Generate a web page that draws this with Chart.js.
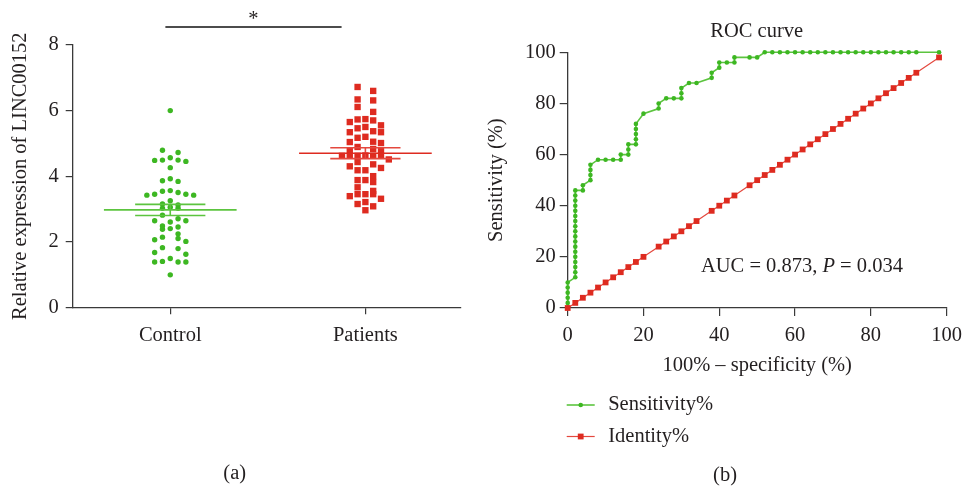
<!DOCTYPE html>
<html><head><meta charset="utf-8">
<script src="https://cdn.jsdelivr.net/npm/chart.js@4/dist/chart.umd.min.js"></script>
<style>
html,body{margin:0;padding:0;background:#fff;width:969px;height:487px;overflow:hidden}
#wa{position:absolute;left:0;top:0;width:480px;height:487px}
#wb{position:absolute;left:480px;top:0;width:489px;height:487px}
</style></head><body>
<div id="wa"><canvas id="ca" width="480" height="487" style="width:480px;height:487px"></canvas></div>
<div id="wb"><canvas id="cb" width="489" height="487" style="width:489px;height:487px"></canvas></div>
<script>
// ---------- data: panel (a) ----------
const groupLabels = ['Control', 'Patients'];
const controlValues = [6.0, 4.72, 4.79, 4.49, 4.48, 4.56, 4.45, 4.49, 4.26, 3.86, 3.84, 3.92,
  3.45, 3.56, 3.42, 3.50, 3.54, 3.42, 3.45, 3.25, 3.12, 3.15, 3.05, 3.02, 3.02, 2.81,
  2.60, 2.64, 2.64, 2.70, 2.45, 2.38, 2.40, 2.48, 2.14, 2.06, 2.01, 2.10, 2.24,
  1.82, 1.67, 1.79, 1.62, 1.40, 1.38, 1.38, 1.38, 1.49, 0.99];
const patientValues = [6.72, 6.60, 6.34, 6.31, 6.11, 5.96, 5.74, 5.70, 5.65, 5.73, 5.55, 5.50,
  5.46, 5.37, 5.34, 5.34, 5.17, 5.20, 5.05, 5.01, 5.04, 4.89, 4.83, 4.77, 4.79, 4.62, 4.62,
  4.63, 4.62, 4.62, 4.62, 4.51, 4.43, 4.36, 4.30, 4.25, 4.18, 4.18, 4.00, 3.88, 3.82, 3.88,
  3.66, 3.45, 3.45, 3.55, 3.39, 3.45, 3.31, 3.15, 3.21, 3.08, 2.96];
const groupMeans = [2.97, 4.70];
const groupSems = [0.17, 0.165];
const yTicksA = [0, 2, 4, 6, 8];
const sigBracketX = [0.975, 1.878];
const sigBracketY = 8.55;
const sigLabel = '*';

// ---------- data: panel (b) ----------
const rocFpr = [0,0,0,0,0,0,
  2,2,2,2,2,2,2,2,2,2,2,2,2,2,2,2,2,2,
  4,4, 6,6,6,6, 8,10,12, 14,14, 16,16,16, 18,18,18,18,18, 20, 24,24, 26,28, 30,30,30,
  32,34, 38,38, 40,40, 42, 44,44, 48,50,
  52,54,56,58,60,62,64,66,68,70,72,74,76,78,80,82,84,86,88,90,92, 98];
const rocSensitivity = [0,2,4,6,8,10,
  12,14,16,18,20,22,24,26,28,30,32,34,36,38,40,42,44,46,
  46,48, 50,52,54,56, 58,58,58, 58,60, 60,62,64, 64,66,68,70,72, 76, 78,80, 82,82, 82,84,86,
  88,88, 90,92, 94,96, 96, 96,98, 98,98,
  100,100,100,100,100,100,100,100,100,100,100,100,100,100,100,100,100,100,100,100,100, 100];
const identityX = [0,2,4,6,8,10,12,14,16,18,20,24,26,28,30,32,34,38,40,42,44,48,50,
  52,54,56,58,60,62,64,66,68,70,72,74,76,78,80,82,84,86,88,90,92,98];
const identityY = identityX.slice();
const xTicksB = [0, 20, 40, 60, 80, 100];
const yTicksB = [0, 20, 40, 60, 80, 100];
const rocTitle = 'ROC curve';
const seriesNames = ['Sensitivity%', 'Identity%'];
const aucText = ['AUC = 0.873, ', 'P', ' = 0.034'];
const panelLabels = ['(a)', '(b)'];

// ---------- styles ----------
const GREEN = '#3db722';
const GREEN_L = '#5cc43f';
const RED = '#de2b20';
const RED_L = '#e4483e';
const AXIS = '#3a3a3a';
const TEXT = '#231f20';
const FAM = "'Liberation Serif', 'Times New Roman', serif";
const FS = 20.5;

// row-binned scatter layout (Prism-like), computed from the values
function swarm(values, center, step, rowHeight) {
  const order = values.map((v, i) => i).sort((a, b) => values[b] - values[a]);
  const out = new Array(values.length);
  let k = 0;
  while (k < order.length) {
    const start = values[order[k]];
    const row = [];
    while (k < order.length && start - values[order[k]] < rowHeight) { row.push(order[k]); k++; }
    const n = row.length;
    const cols = [];
    if (n % 2) { cols.push(0); for (let j = 1; cols.length < n; j++) { cols.push(-j, j); } }
    else { for (let j = 1; cols.length < n; j++) { cols.push(-j, j); } }
    row.forEach((idx, j) => { out[idx] = {x: center + cols[j] * step, y: values[idx]}; });
  }
  return out;
}

function seg(x1, y1, x2, y2) { return [{x: x1, y: y1}, {x: x2, y: y2}]; }

function meanSemSets(g, color, colorL) {
  const c = g + 1, m = groupMeans[g], s = groupSems[g];
  const base = {type: 'line', showLine: true, pointRadius: 0, borderWidth: 1.6, clip: false, order: 0};
  return [
    Object.assign({}, base, {data: seg(c - 0.34, m, c + 0.34, m), borderColor: color}),
    Object.assign({}, base, {data: seg(c - 0.18, m + s, c + 0.18, m + s), borderColor: colorL}),
    Object.assign({}, base, {data: seg(c - 0.18, m - s, c + 0.18, m - s), borderColor: colorL}),
    Object.assign({}, base, {data: seg(c, m - s, c, m + s), borderColor: colorL}),
  ];
}

const tickFont = {family: FAM, size: FS};

const annotA = {
  id: 'annotA',
  afterDraw(chart) {
    const {ctx, scales: {x, y}} = chart;
    ctx.save();
    const x1 = x.getPixelForValue(sigBracketX[0]);
    const x2 = x.getPixelForValue(sigBracketX[1]);
    const yy = y.getPixelForValue(sigBracketY);
    ctx.strokeStyle = '#111';
    ctx.lineWidth = 1.4;
    ctx.beginPath(); ctx.moveTo(x1, yy); ctx.lineTo(x2, yy); ctx.stroke();
    ctx.fillStyle = TEXT;
    ctx.font = FS + 'px ' + FAM;
    ctx.textAlign = 'center';
    ctx.textBaseline = 'alphabetic';
    ctx.fillText(sigLabel, (x1 + x2) / 2, yy - 2);
    ctx.textBaseline = 'middle';
    ctx.fillText(panelLabels[0], 234.7, 474);
    ctx.restore();
  }
};

const swarmC = swarm(controlValues, 1, 0.04, 0.2);
const swarmP = swarm(patientValues, 2, 0.04, 0.2);

new Chart(document.getElementById('ca'), {
  type: 'scatter',
  data: {
    datasets: [
      ...meanSemSets(0, GREEN_L, GREEN_L),
      ...meanSemSets(1, RED, RED_L),
      {label: groupLabels[0], data: swarmC, pointRadius: 2.7, pointBackgroundColor: GREEN,
        pointBorderWidth: 0, pointStyle: 'circle', clip: false, order: 1},
      {label: groupLabels[1], data: swarmP, pointRadius: 4.5, pointBackgroundColor: RED,
        pointBorderWidth: 0, pointStyle: 'rect', clip: false, order: 1},
    ]
  },
  options: {
    responsive: false, animation: false,
    layout: {padding: {left: 0, right: 19, top: 45, bottom: 139.7}},
    plugins: {legend: {display: false}, tooltip: {enabled: false}},
    scales: {
      x: {
        type: 'linear', min: 0.5, max: 2.49,
        afterBuildTicks: s => { s.ticks = groupLabels.map((l, i) => ({value: i + 1})); },
        afterFit: s => { s.height = 40; },
        ticks: {font: tickFont, color: TEXT, padding: 9, autoSkip: false, maxRotation: 0,
          callback: (v) => groupLabels[Math.round(v) - 1]},
        grid: {drawOnChartArea: false, drawTicks: true, tickLength: 7, color: AXIS, lineWidth: 1.2},
        border: {display: true, color: AXIS, width: 1.3}
      },
      y: {
        min: 0, max: 8,
        afterBuildTicks: s => { s.ticks = yTicksA.map(v => ({value: v})); },
        afterFit: s => { s.width = 72.7; },
        ticks: {font: tickFont, color: TEXT, padding: 7},
        grid: {drawOnChartArea: false, drawTicks: true, tickLength: 7, color: AXIS, lineWidth: 1.2},
        border: {display: true, color: AXIS, width: 1.3},
        title: {display: true, text: 'Relative expression of LINC00152', font: tickFont, color: TEXT,
          padding: {top: 8.5, bottom: 0}}
      }
    }
  },
  plugins: [annotA]
});

const annotB = {
  id: 'annotB',
  afterDraw(chart) {
    const {ctx, chartArea: ca} = chart;
    ctx.save();
    ctx.fillStyle = TEXT;
    ctx.font = FS + 'px ' + FAM;
    ctx.textBaseline = 'alphabetic';
    ctx.textAlign = 'center';
    ctx.fillText(rocTitle, 756.7 - 480, 36.7);
    ctx.textAlign = 'left';
    let tx = 701 - 480;
    const ty = 272;
    ctx.font = FS + 'px ' + FAM;
    ctx.fillText(aucText[0], tx, ty); tx += ctx.measureText(aucText[0]).width;
    ctx.font = 'italic ' + FS + 'px ' + FAM;
    ctx.fillText(aucText[1], tx, ty); tx += ctx.measureText(aucText[1]).width;
    ctx.font = FS + 'px ' + FAM;
    ctx.fillText(aucText[2], tx, ty);
    const ds = chart.data.datasets;
    const rows = [ca.bottom + 97, ca.bottom + 128.5];
    [0, 1].forEach(i => {
      const d = ds[i];
      const yy = rows[i];
      const x0 = ca.left - 1, x1 = ca.left + 27;
      ctx.strokeStyle = d.borderColor;
      ctx.lineWidth = d.borderWidth;
      ctx.beginPath(); ctx.moveTo(x0, yy); ctx.lineTo(x1, yy); ctx.stroke();
      ctx.fillStyle = d.pointBackgroundColor;
      const cx = (x0 + x1) / 2;
      if (d.pointStyle === 'rect') {
        const h = d.pointRadius * Math.SQRT1_2;
        ctx.fillRect(cx - h, yy - h, 2 * h, 2 * h);
      } else {
        ctx.beginPath(); ctx.arc(cx, yy, d.pointRadius, 0, Math.PI * 2); ctx.fill();
      }
      ctx.fillStyle = TEXT;
      ctx.textBaseline = 'middle';
      ctx.textAlign = 'left';
      ctx.fillText(d.label, ca.left + 40.5, yy);
    });
    ctx.textAlign = 'center';
    ctx.fillText(panelLabels[1], 725 - 480, 476);
    ctx.restore();
  }
};

new Chart(document.getElementById('cb'), {
  type: 'scatter',
  data: {
    datasets: [
      {label: seriesNames[0], data: rocFpr.map((v, i) => ({x: v, y: rocSensitivity[i]})),
        showLine: true, borderColor: GREEN_L, borderWidth: 1.6, pointRadius: 2.3,
        pointBackgroundColor: GREEN, pointBorderWidth: 0, pointStyle: 'circle', clip: false, order: 2},
      {label: seriesNames[1], data: identityX.map((v, i) => ({x: v, y: identityY[i]})),
        showLine: true, borderColor: RED_L, borderWidth: 1.2, pointRadius: 4.1,
        pointBackgroundColor: RED, pointBorderWidth: 0, pointStyle: 'rect', clip: false, order: 1},
    ]
  },
  options: {
    responsive: false, animation: false,
    layout: {padding: {left: 0, right: 16.7, top: 52.3, bottom: 109}},
    plugins: {legend: {display: false}, tooltip: {enabled: false}},
    scales: {
      x: {
        type: 'linear', min: 0, max: 100,
        afterBuildTicks: s => { s.ticks = xTicksB.map(v => ({value: v})); },
        afterFit: s => { s.height = 70; },
        ticks: {font: tickFont, color: TEXT, padding: 7, maxRotation: 0},
        grid: {drawOnChartArea: false, drawTicks: true, tickLength: 8, color: AXIS, lineWidth: 1.2},
        border: {display: true, color: AXIS, width: 1.3},
        title: {display: true, text: '100% – specificity (%)', font: tickFont, color: TEXT,
          padding: {top: 0, bottom: 0}}
      },
      y: {
        min: 0, max: 100,
        afterBuildTicks: s => { s.ticks = yTicksB.map(v => ({value: v})); },
        afterFit: s => { s.width = 87.7; },
        ticks: {font: tickFont, color: TEXT, padding: 4},
        grid: {drawOnChartArea: false, drawTicks: true, tickLength: 8, color: AXIS, lineWidth: 1.2},
        border: {display: true, color: AXIS, width: 1.3},
        title: {display: true, text: 'Sensitivity (%)', font: tickFont, color: TEXT,
          padding: {top: 4.5, bottom: 0}}
      }
    }
  },
  plugins: [annotB]
});
</script>
</body></html>
